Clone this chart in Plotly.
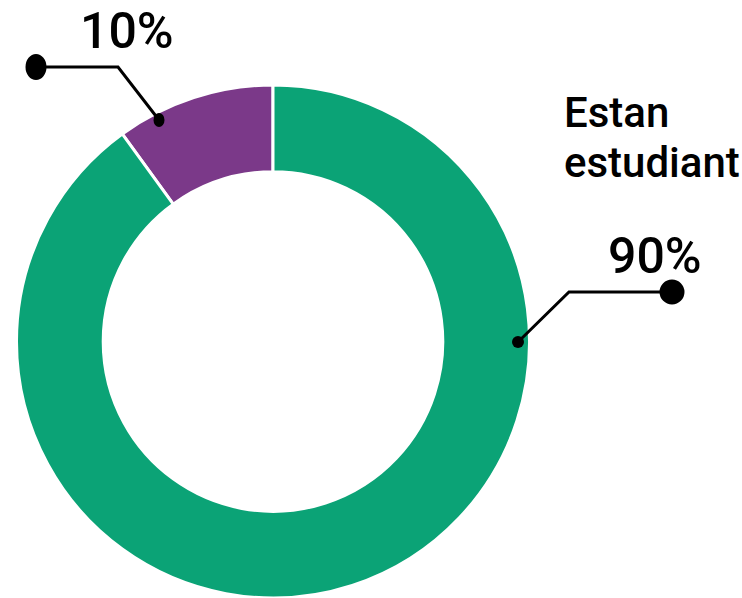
import plotly.graph_objects as go

W, H = 742, 598

labels = ["No estan estudiant", "Estan estudiant"]
values = [10, 90]
colors = ["#7B3989", "#0BA376"]
pct_text = ["10%", "90%"]
label_lines = ["Estan", "estudiant"]

FONT = "Roboto, Liberation Sans, sans-serif"


def px(x):
    return x / W


def py(y):
    return 1 - y / H


fig = go.Figure()

fig.add_trace(go.Pie(
    labels=labels,
    values=values,
    marker=dict(colors=colors, line=dict(color="white", width=3)),
    hole=0.662,
    sort=False,
    direction="clockwise",
    rotation=-36,
    textinfo="none",
    hoverinfo="label+percent",
    showlegend=False,
    domain=dict(x=[px(16), px(530)], y=[0, py(85)]),
))

shapes = []
# leader lines
for pts in [[(159, 120), (118, 67), (37, 67)], [(518, 342), (569, 292), (672, 292)]]:
    path = "M " + " L ".join(f"{px(x)},{py(y)}" for x, y in pts)
    shapes.append(dict(type="path", path=path, xref="paper", yref="paper",
                       line=dict(color="black", width=3)))

# dots (cx, cy, rx, ry)
for cx, cy, rx, ry in [(159, 120, 5.5, 7), (36, 67, 10.5, 13), (518, 342, 6, 6), (672, 292, 12.5, 12.5)]:
    shapes.append(dict(type="circle", xref="paper", yref="paper",
                       x0=px(cx - rx), x1=px(cx + rx), y0=py(cy + ry), y1=py(cy - ry),
                       fillcolor="black", line=dict(width=0)))

big = dict(family=FONT, size=50, color="black", weight=500)
small = dict(family=FONT, size=42, color="black", weight=500)
annotations = [
    dict(text=pct_text[0], x=px(127), y=py(31), font=big, xanchor="center"),
    dict(text=pct_text[1], x=px(655), y=py(256), font=big, xanchor="center"),
    dict(text=label_lines[0], x=px(562), y=py(113), font=small, xanchor="left"),
    dict(text=label_lines[1], x=px(562), y=py(162), font=small, xanchor="left"),
]
for a in annotations:
    a.update(xref="paper", yref="paper", yanchor="middle", showarrow=False)

fig.update_layout(
    width=W, height=H,
    margin=dict(l=0, r=0, t=0, b=0),
    paper_bgcolor="white",
    plot_bgcolor="white",
    shapes=shapes,
    annotations=annotations,
)

fig.write_html("out.html", config={"displayModeBar": False},
               post_script="document.body.style.margin='0';document.body.style.overflow='hidden';")
